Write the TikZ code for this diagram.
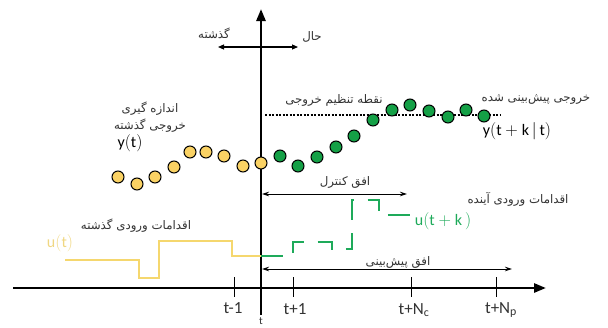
\documentclass[tikz,border=0pt]{standalone}
\usepackage{fontspec}
\setmainfont{Carlito}
\newfontfamily\farsi[Script=Arabic]{DejaVu Sans}
\TeXXeTstate=1
\usetikzlibrary{arrows.meta}
\definecolor{pastyellow}{RGB}{250,210,100}
\definecolor{inputyellow}{RGB}{245,215,110}
\definecolor{labelyellow}{RGB}{240,215,130}
\definecolor{predgreen}{RGB}{20,160,70}
\definecolor{inputgreen}{RGB}{30,170,90}
\newcommand{\fa}[1]{{\farsi\beginR #1\endR}}
\begin{document}
\begin{tikzpicture}[x=1pt, y=-1pt,
  axis/.style={line width=2.6pt, -{Triangle[length=12pt,width=9pt]}},
  timeline/.style={line width=1.1pt, {Triangle[length=6pt,width=5pt]}-{Triangle[length=6pt,width=5pt]}},
  horizon/.style={line width=0.9pt, {Stealth[length=7pt,width=4.5pt]}-{Stealth[length=7pt,width=4.5pt]}},
  tickmark/.style={line width=1pt},
  setpoint/.style={line width=1.2pt, dash pattern=on 2pt off 1.5pt},
  measured/.style={circle, draw=black, line width=1pt, fill=pastyellow, minimum size=12pt, inner sep=0pt},
  predicted/.style={measured, fill=predgreen},
  pastinput/.style={line width=2pt, inputyellow},
  futureinput/.style={line width=2.2pt, inputgreen, dash pattern=on 22pt off 13.3pt},
  fatext/.style={font=\fontsize{11.8}{14}\selectfont, text=black!80, inner sep=1pt},
  ticklabel/.style={font=\fontsize{17}{19}\selectfont, text=black!80, inner sep=1pt},
  mathlabel/.style={font=\fontsize{16}{18}\selectfont, inner sep=1pt}
]
  \useasboundingbox (0,0) rectangle (608,327);

  % Axes: time runs to the right, the present is the vertical line
  \coordinate (O) at (261,288);
  \coordinate (hleft) at (13,288);
  \coordinate (hright) at (546,288);
  \coordinate (vbot) at (261,315);
  \coordinate (vtop) at (261,9);
  \draw[axis] (hleft) -- (hright);
  \draw[axis] (vbot) -- (vtop);
  \node[ticklabel, font=\fontsize{11}{13}\selectfont, anchor=south, inner sep=1pt] (tnow) at (261,326) {t};

  % Past / present arrow near the top
  \coordinate (pastend) at (218,47);
  \coordinate (nowend) at (298,47);
  \draw[timeline] (pastend) -- (nowend);
  \node[fatext] (pastlbl) at (214,33) {\fa{گذشته}};
  \node[fatext] (nowlbl) at (312,37) {\fa{حال}};

  % Ticks on the time axis
  \foreach \tname/\tx in {tm1/234, tp1/293, tnc/411, tnp/496} {
    \coordinate (\tname) at (\tx,288);
    \draw[tickmark] (\tx,277) -- (\tx,297);
  }
  \node[ticklabel] (tm1lbl) at (233,308) {t-1};
  \node[ticklabel] (tp1lbl) at (295,309) {t+1};
  \node[ticklabel] (tnclbl) at (414,310) {t+N\textsubscript{c}};
  \node[ticklabel] (tnplbl) at (501,310) {t+N\textsubscript{p}};

  % Output set point
  \coordinate (spstart) at (265,115);
  \coordinate (spend) at (500,115);
  \draw[setpoint] (spstart) -- (spend);
  \node[fatext] (splbl) at (334,100) {\fa{نقطه تنظیم خروجی}};

  % Measured past outputs and predicted outputs
  \foreach \px/\py [count=\i] in {118/177, 137/184, 155/177, 174/167, 190/152,
      206/152, 224/156, 243/166, 261/163}
    \node[measured] (ym\i) at (\px,\py) {};
  \foreach \px/\py [count=\i] in {280/156, 298/166, 317/157, 336/147, 354/136,
      373/120, 392/110, 410/105, 429/111, 448/117, 466/110, 484/116}
    \node[predicted] (yp\i) at (\px,\py) {};

  \node[fatext] (measlbl) at (150,109) {\fa{اندازه گیری}};
  \node[fatext] (pastoutlbl) at (150,126) {\fa{خروجی گذشته}};
  \node[mathlabel] (ylbl) at (130,143) {$\mathrm{y(t)}$};
  \node[fatext] (predlbl) at (536,99) {\fa{خروجی پیش‌بینی شده}};
  \node[mathlabel] (yklbl) at (517,131) {$\mathrm{y(t+k\,|\,t)}$};

  % Control and prediction horizons
  \coordinate (ctrlstart) at (262,194);
  \coordinate (ctrlend) at (407,194);
  \draw[horizon] (ctrlstart) -- (ctrlend);
  \node[fatext] (ctrllbl) at (345,182) {\fa{افق کنترل}};
  \coordinate (predstart) at (262,269);
  \coordinate (predend) at (512,269);
  \draw[horizon] (predstart) -- (predend);
  \node[fatext] (horlbl) at (398,262) {\fa{افق پیش‌بینی}};

  % Past and future inputs
  \draw[pastinput] (65,260) -- (139,260) -- (139,278) -- (159,278) -- (159,241)
    -- (232,241) -- (232,256) -- (261,256);
  \node[mathlabel, text=labelyellow] (ulbl) at (60,243) {$\mathrm{u(t)}$};
  \node[fatext] (pastinlbl) at (136,226) {\fa{اقدامات ورودی گذشته}};

  \draw[futureinput] (261,256) -- (293,256) -- (293,242) -- (332,242) -- (332,249)
    -- (352,249) -- (352,200) -- (379,200) -- (379,215) -- (410,215);
  \node[mathlabel, text=inputgreen] (uklbl) at (443,221) {$\mathrm{u(t+k\,)}$};
  \node[fatext] (futinlbl) at (518,199) {\fa{اقدامات ورودی آینده}};

\end{tikzpicture}
\end{document}
